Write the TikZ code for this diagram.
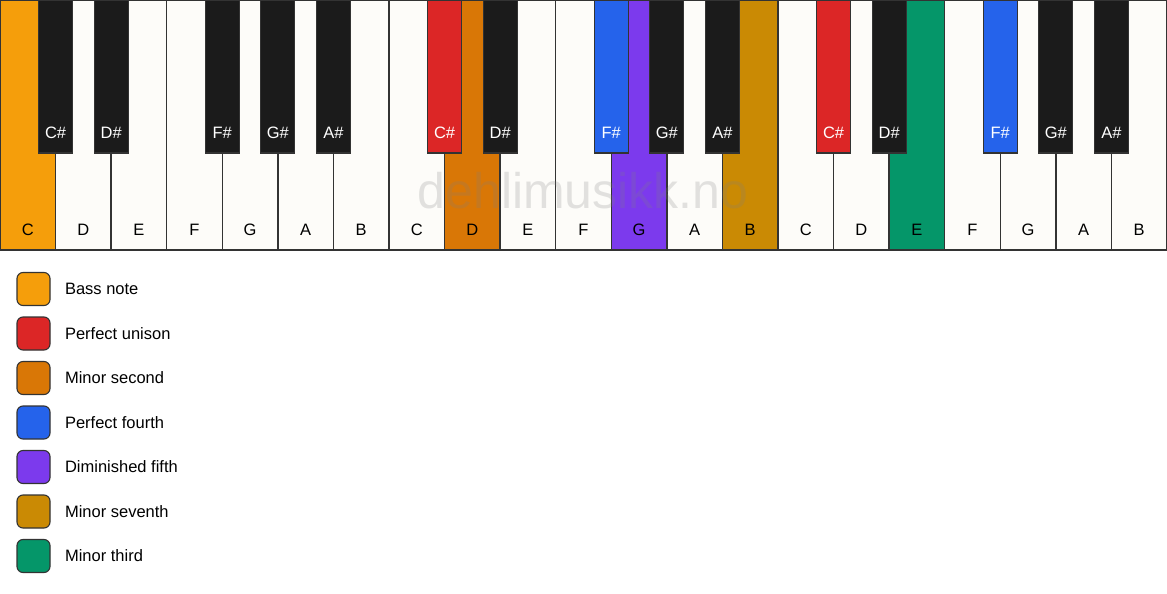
\documentclass[tikz,border=0pt]{standalone}
\usepackage{fontspec}
\setmainfont{Liberation Sans}
\definecolor{ivory}{HTML}{FDFCF9}
\definecolor{ebony}{HTML}{1B1B1B}
\definecolor{keyline}{HTML}{333333}
\definecolor{bass}{HTML}{F59E0B}
\definecolor{unison}{HTML}{DC2626}
\definecolor{minsecond}{HTML}{D97706}
\definecolor{fourth}{HTML}{2563EB}
\definecolor{dimfifth}{HTML}{7C3AED}
\definecolor{minseventh}{HTML}{CA8A04}
\definecolor{minthird}{HTML}{059669}
\tikzset{
  keyfont/.style={font=\fontsize{16.5}{19}\selectfont},
  whitekey/.style={draw=keyline, line width=1.3pt, inner sep=0pt, outer sep=0pt,
    minimum width=55.571pt, minimum height=250pt, anchor=north west},
  blackkey/.style={draw=keyline, line width=1.1pt, inner sep=0pt, outer sep=0pt,
    minimum width=34pt, minimum height=153pt, anchor=north},
  legbox/.style={draw=keyline, line width=1.1pt, rounded corners=6pt,
    minimum width=33pt, minimum height=33pt, inner sep=0pt}
}
\begin{document}
\begin{tikzpicture}[x=1pt,y=-1pt]
\useasboundingbox[fill=white] (0,0) rectangle (1167,594);
\foreach \i/\n/\c in {0/C/bass,1/D/ivory,2/E/ivory,3/F/ivory,4/G/ivory,5/A/ivory,6/B/ivory,
    7/C/ivory,8/D/minsecond,9/E/ivory,10/F/ivory,11/G/dimfifth,12/A/ivory,13/B/minseventh,
    14/C/ivory,15/D/ivory,16/E/minthird,17/F/ivory,18/G/ivory,19/A/ivory,20/B/ivory}{
  \node[whitekey, fill=\c] (w\i) at (\i*55.571,0) {};
  \node[keyfont] (wl\i) at (\i*55.571+27.79,230) {\n};
}
\node[anchor=base, text=gray, opacity=0.22, font=\fontsize{50}{52}\selectfont] (mark) at (583,208) {dehlimusikk.no};
\foreach \b/\n/\c in {1/C/ebony,2/D/ebony,4/F/ebony,5/G/ebony,6/A/ebony,
    8/C/unison,9/D/ebony,11/F/fourth,12/G/ebony,13/A/ebony,
    15/C/unison,16/D/ebony,18/F/fourth,19/G/ebony,20/A/ebony}{
  \node[blackkey, fill=\c] (b\b) at (\b*55.571,0) {};
  \node[keyfont, text=white] (bl\b) at (\b*55.571,133) {\n\#};
}
% legend
\node[legbox, fill=bass] (l1) at (33.5,289) {};
\node[keyfont, anchor=west] (t1) at (61.5,289) {Bass note};
\node[legbox, fill=unison] (l2) at (33.5,333.5) {};
\node[keyfont, anchor=west] (t2) at (61.5,333.5) {Perfect unison};
\node[legbox, fill=minsecond] (l3) at (33.5,378) {};
\node[keyfont, anchor=west] (t3) at (61.5,378) {Minor second};
\node[legbox, fill=fourth] (l4) at (33.5,422.5) {};
\node[keyfont, anchor=west] (t4) at (61.5,422.5) {Perfect fourth};
\node[legbox, fill=dimfifth] (l5) at (33.5,467) {};
\node[keyfont, anchor=west] (t5) at (61.5,467) {Diminished fifth};
\node[legbox, fill=minseventh] (l6) at (33.5,511.5) {};
\node[keyfont, anchor=west] (t6) at (61.5,511.5) {Minor seventh};
\node[legbox, fill=minthird] (l7) at (33.5,556) {};
\node[keyfont, anchor=west] (t7) at (61.5,556) {Minor third};
\end{tikzpicture}
\end{document}
